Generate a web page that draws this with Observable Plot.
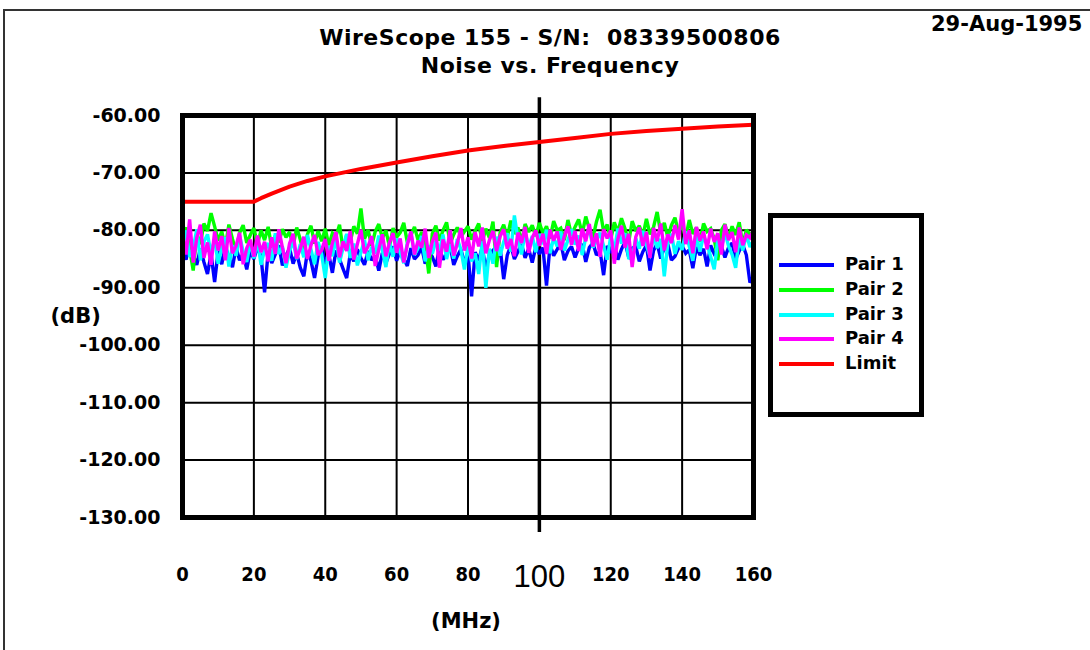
<!DOCTYPE html>
<html>
<head>
<meta charset="utf-8">
<script src="https://cdn.jsdelivr.net/npm/d3@7"></script>
<script src="https://cdn.jsdelivr.net/npm/@observablehq/plot@0.6"></script>
<style>
  html, body { margin: 0; padding: 0; background: #fff; }
  #page { position: relative; width: 1090px; height: 650px; overflow: hidden; background: #fff; }
  #outer { position: absolute; left: 3px; top: 9px; width: 1200px; height: 800px; border-left: 2px solid #333; border-top: 2px solid #333; }
  .hdr { position: absolute; font-family: "DejaVu Sans", sans-serif; font-weight: bold; color: #000; white-space: nowrap; }
  #t1, #t2 { left: 0; width: 1100px; text-align: center; font-size: 22px; line-height: 22px; letter-spacing: 0.5px; }
  #t1 { top: 27px; }
  #t2 { top: 55px; }
  #date { left: 931px; top: 14px; font-size: 21px; line-height: 21px; }
  #chart { position: absolute; left: 0; top: 95px; }
  #legend { position: absolute; left: 768px; top: 213px; width: 156px; height: 204px; box-sizing: border-box; border: 5px solid #000; background: #fff; }
  .item { position: absolute; left: 6px; height: 20px; }
  .sw { position: absolute; left: 0; top: 8px; width: 55px; height: 4px; }
  .lab { position: absolute; left: 66px; top: -2px; font-family: "DejaVu Sans", sans-serif; font-weight: bold; font-size: 18px; line-height: 22px; white-space: nowrap; }
</style>
</head>
<body>
<div id="page">
  <div id="outer"></div>
  <div class="hdr" id="t1"></div>
  <div class="hdr" id="t2"></div>
  <div class="hdr" id="date"></div>
  <div id="chart"></div>
  <div id="legend"></div>
</div>
<script>
// ---------- Text ----------
const titleLine1 = "WireScope 155 - S/N:\u00a0\u00a008339500806";
const titleLine2 = "Noise vs. Frequency";
const dateText = "29-Aug-1995";
const yUnit = "(dB)";
const xUnit = "(MHz)";

// ---------- Axes ----------
const xTicks = [0, 20, 40, 60, 80, 100, 120, 140, 160];
const xTickLabels = ["0", "20", "40", "60", "80", "100", "120", "140", "160"];
const yTicks = [-60, -70, -80, -90, -100, -110, -120, -130];

// ---------- Series ----------
const seriesNames = ["Pair 1", "Pair 2", "Pair 3", "Pair 4", "Limit"];
const seriesColors = ["#0000ff", "#00ff00", "#00ffff", "#ff00ff", "#ff0000"];

// Noise samples, one per MHz from 0 to 160 MHz (dB)
const pair1 = [
  -83.4, -85.1, -82.0, -84.3, -86.0, -83.2, -85.5, -87.6, -84.1, -89.0,
  -83.6, -85.9, -82.8, -84.7, -86.4, -83.0, -85.2, -84.0, -86.8, -83.5,
  -85.0, -82.9, -84.6, -90.8, -83.8, -85.7, -84.2, -82.6, -86.1, -84.4,
  -83.1, -85.8, -84.0, -86.5, -88.0, -83.7, -85.3, -88.3, -84.5, -83.0,
  -85.6, -84.2, -87.4, -83.5, -85.0, -86.7, -88.3, -84.1, -85.4, -83.3,
  -84.8, -86.0, -83.6, -85.2, -84.4, -87.0, -83.9, -85.7, -84.0, -82.8,
  -85.3, -83.4, -84.9, -86.2, -83.1, -85.0, -84.3, -82.9, -85.8, -83.7,
  -84.6, -86.3, -83.0, -85.1, -84.2, -82.7, -86.0, -84.5, -83.3, -85.6,
  -84.0, -91.5, -83.8, -85.2, -82.9, -86.9, -84.1, -83.5, -85.4, -83.0,
  -88.5, -84.3, -82.6, -85.0, -83.7, -82.4, -84.8, -83.2, -85.6, -82.9,
  -84.1, -83.0, -89.6, -82.5, -84.4, -83.3, -82.1, -85.2, -83.6, -82.8,
  -84.7, -83.1, -82.4, -85.5, -83.0, -82.2, -84.3, -83.6, -87.8, -82.7,
  -83.9, -82.5, -85.1, -83.3, -82.0, -84.6, -83.1, -82.8, -85.4, -83.7,
  -82.6, -87.0, -83.5, -82.3, -84.9, -83.0, -82.4, -85.2, -84.5, -83.1,
  -82.7, -84.0, -83.4, -86.6, -82.9, -84.3, -83.2, -86.3, -82.6, -84.1,
  -83.5, -82.8, -84.7, -83.0, -82.2, -85.0, -83.6, -82.5, -84.3, -89.1,
  -88.0
];
const pair2 = [
  -81.0, -79.5, -83.2, -87.0, -80.6, -82.4, -78.8, -80.1, -77.0, -79.3,
  -81.8, -80.2, -82.9, -79.0, -81.5, -83.7, -80.4, -79.1, -82.2, -80.8,
  -79.6, -82.5, -80.0, -81.7, -79.4, -83.0, -80.9, -82.1, -79.8, -81.2,
  -80.3, -82.8, -79.5, -81.6, -84.2, -80.7, -79.2, -82.3, -80.1, -81.9,
  -79.7, -82.6, -80.5, -81.1, -79.0, -83.4, -80.8, -82.0, -79.3, -80.6,
  -76.2, -81.5, -79.9, -82.7, -80.2, -78.9, -81.4, -80.0, -82.9, -79.6,
  -81.2, -80.4, -78.7, -82.1, -80.9, -79.4, -81.7, -80.3, -82.4, -87.5,
  -80.6, -79.2, -81.8, -80.0, -78.6, -82.3, -80.7, -79.5, -81.1, -80.2,
  -79.3, -81.6, -80.1, -78.8, -82.0, -79.7, -81.3, -78.5, -86.4, -80.4,
  -79.0, -81.2, -78.3, -80.6, -79.5, -82.1, -78.9, -80.3, -79.1, -81.0,
  -78.7, -80.5, -79.3, -81.4, -78.4, -80.0, -79.6, -81.7, -78.2, -80.8,
  -79.4, -78.1, -80.6, -77.6, -79.8, -81.3, -78.5, -76.4, -80.2, -79.0,
  -81.6, -78.6, -80.3, -77.9, -79.7, -82.2, -78.4, -80.1, -79.2, -81.0,
  -78.0, -80.7, -79.4, -76.8, -80.5, -78.7, -81.2, -79.1, -77.8, -80.4,
  -79.0, -81.3, -78.2, -80.6, -79.5, -82.0, -78.8, -80.2, -79.7, -81.5,
  -85.2, -80.0, -78.9, -81.4, -79.3, -80.8, -78.6, -82.5, -79.9, -80.7,
  -80.3
];
const pair3 = [
  -82.5, -80.0, -84.6, -83.1, -79.8, -85.2, -82.0, -80.7, -84.0, -81.5,
  -85.8, -83.0, -81.2, -86.3, -82.6, -84.4, -80.9, -83.7, -85.5, -82.1,
  -84.9, -81.6, -86.0, -83.4, -82.2, -85.3, -80.5, -84.1, -82.8, -86.5,
  -83.6, -81.9, -85.0, -82.4, -84.7, -80.8, -83.3, -85.9, -82.0, -84.2,
  -88.3, -82.7, -84.5, -81.3, -85.6, -83.0, -80.6, -84.8, -82.3, -86.1,
  -83.8, -81.7, -85.2, -82.9, -84.0, -80.9, -83.5, -86.4, -82.1, -84.6,
  -81.4, -83.9, -85.7, -82.2, -80.3, -84.3, -83.1, -81.0, -85.4, -82.6,
  -84.1, -81.8, -83.6, -80.7, -85.0, -82.4, -84.9, -81.5, -83.3, -86.8,
  -82.7, -85.4, -84.0, -87.6, -81.9, -90.0, -83.2, -85.8, -81.1, -84.4,
  -82.0, -80.5, -83.7, -77.4, -81.6, -84.2, -80.3, -82.9, -81.0, -83.8,
  -80.6, -82.4, -79.9, -84.0, -81.3, -82.8, -80.2, -83.5, -81.7, -79.8,
  -82.5, -80.9, -84.3, -81.2, -79.6, -83.0, -81.8, -80.4, -82.7, -85.1,
  -81.0, -83.6, -79.7, -82.3, -80.5, -84.8, -85.0, -81.4, -83.2, -80.1,
  -82.6, -84.5, -80.8, -83.1, -81.5, -88.0, -82.2, -80.6, -84.1, -81.9,
  -83.4, -80.2, -82.8, -85.3, -81.0, -83.7, -80.9, -82.4, -84.6, -86.8,
  -81.6, -83.0, -80.4, -82.7, -84.2, -86.5, -81.3, -83.5, -80.7, -82.9,
  -81.8
];
const pair4 = [
  -80.5, -84.2, -78.1, -85.6, -81.3, -79.0, -84.8, -82.1, -86.0, -80.2,
  -83.5, -81.0, -85.2, -79.6, -84.0, -82.7, -80.4, -85.9, -83.1, -81.6,
  -84.6, -80.9, -83.8, -82.0, -85.4, -81.2, -84.1, -79.8, -83.0, -85.7,
  -82.3, -80.6, -84.9, -83.2, -81.1, -85.0, -82.6, -80.8, -84.3, -83.4,
  -81.5, -85.3, -82.2, -80.3, -84.7, -81.9, -83.6, -80.1, -85.1, -82.4,
  -79.9, -84.0, -82.8, -81.0, -86.2, -83.3, -80.7, -84.5, -82.1, -80.5,
  -83.9, -81.4, -85.6, -82.5, -80.2, -84.2, -81.8, -83.0, -79.7, -84.8,
  -82.0, -80.4, -86.5, -81.6, -83.7, -80.0, -84.4, -82.3, -79.6, -83.5,
  -81.2, -84.9, -80.3, -82.8, -79.5, -84.0, -81.7, -80.1, -83.6, -81.0,
  -79.8, -83.2, -81.5, -84.5, -80.4, -82.2, -79.4, -83.9, -81.3, -80.0,
  -82.7, -80.6, -84.1, -79.9, -81.8, -80.2, -83.4, -81.0, -79.3, -82.5,
  -80.1, -83.6, -79.7, -81.9, -78.9, -82.8, -80.5, -84.6, -79.8, -81.4,
  -80.0, -85.8, -81.5, -79.2, -83.0, -80.6, -86.4, -81.2, -79.5, -82.7,
  -80.3, -84.8, -79.6, -81.9, -78.8, -83.5, -80.7, -82.2, -79.1, -81.6,
  -76.3, -82.4, -80.0, -84.0, -79.4, -81.8, -80.2, -83.3, -79.7, -82.0,
  -80.5, -84.2, -79.0, -81.7, -80.3, -83.8, -79.5, -82.6, -80.8, -81.3,
  -80.0
];

// Limit line (MHz, dB)
const limitFreq = [0, 20, 22, 25, 30, 35, 40, 50, 60, 70, 80, 90, 100, 110, 120, 130, 140, 150, 160];
const limitDb   = [-75, -75, -74.4, -73.6, -72.4, -71.4, -70.6, -69.3, -68.2, -67.1, -66.1, -65.3, -64.6, -63.9, -63.2, -62.7, -62.3, -61.9, -61.6];

// ---------- Build tables ----------
const freq = d3.range(0, 161); // sampling grid, 1 MHz
const noiseSets = [pair1, pair2, pair3, pair4];
const noiseRows = noiseSets.flatMap((vals, i) =>
  vals.map((v, k) => ({ f: freq[k], db: v, series: seriesNames[i] })));
const limitRows = limitFreq.map((f, k) => ({ f, db: limitDb[k], series: "Limit" }));
const xRows = xTicks.map((v, i) => ({ v, label: xTickLabels[i] }));

document.getElementById("t1").textContent = titleLine1;
document.getElementById("t2").textContent = titleLine2;
document.getElementById("date").textContent = dateText;

const chart = Plot.plot({
  width: 1090,
  height: 555,
  marginLeft: 182,
  marginRight: 337,
  marginTop: 20,
  marginBottom: 133,
  style: "font: bold 19px 'DejaVu Sans', sans-serif; background: transparent; overflow: visible; color: #000;",
  x: { domain: [0, 160], axis: null },
  y: {
    domain: [-130, -60],
    ticks: yTicks,
    tickFormat: d => d.toFixed(2),
    tickSize: 0,
    tickPadding: 22,
    label: null
  },
  color: { domain: seriesNames, range: seriesColors },
  marks: [
    Plot.ruleX(xTicks.filter(d => d !== 100), { stroke: "#000", strokeWidth: 2 }),
    Plot.ruleY(yTicks, { stroke: "#000", strokeWidth: 2 }),
    Plot.ruleX([100], { y1: -56.9, y2: -132.6, stroke: "#000", strokeWidth: 3.5 }),
    Plot.line(noiseRows, { x: "f", y: "db", z: "series", stroke: "series", strokeWidth: 3.4, strokeLinejoin: "miter", strokeMiterlimit: 2 }),
    Plot.line(limitRows, { x: "f", y: "db", stroke: "series", strokeWidth: 4 }),
    Plot.frame({ stroke: "#000", strokeWidth: 5 }),
    Plot.text(xRows.filter(d => d.v !== 100), {
      x: "v", text: "label", frameAnchor: "bottom", dy: 63,
      fontFamily: "'DejaVu Sans Condensed', 'Liberation Sans Narrow', sans-serif", fontWeight: "bold", fontSize: 20, fill: "#000"
    }),
    Plot.text(xRows.filter(d => d.v === 100), {
      x: "v", text: "label", frameAnchor: "bottom", dy: 69,
      fontFamily: "'Liberation Sans', Arial, sans-serif", fontWeight: "normal", fontSize: 31, fill: "#000"
    }),
    Plot.text([xUnit], { x: 80, text: d => d, frameAnchor: "bottom", dy: 110, dx: -2, fontSize: 21, fontWeight: "bold", fill: "#000" }),
    Plot.text([yUnit], { y: -95, text: d => d, frameAnchor: "left", dx: -132, fontSize: 21, fontWeight: "bold", fill: "#000" })
  ]
});
document.getElementById("chart").appendChild(chart);

// ---------- Legend ----------
const legend = document.getElementById("legend");
seriesNames.forEach((name, i) => {
  const item = document.createElement("div");
  item.className = "item";
  item.style.top = (37 + i * 24.8) + "px";
  const sw = document.createElement("div");
  sw.className = "sw";
  sw.style.background = seriesColors[i];
  const lab = document.createElement("div");
  lab.className = "lab";
  lab.textContent = name;
  item.appendChild(sw);
  item.appendChild(lab);
  legend.appendChild(item);
});
</script>
</body>
</html>
